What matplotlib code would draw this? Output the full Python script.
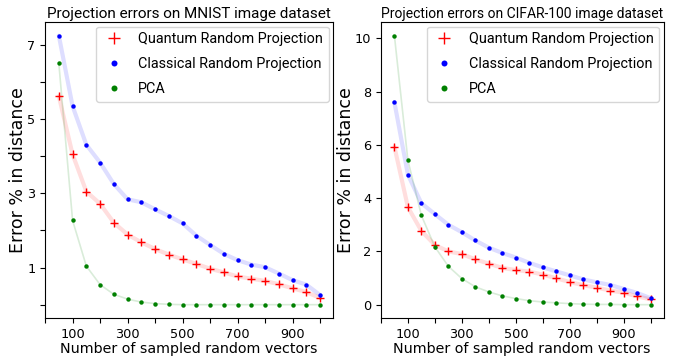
import matplotlib
matplotlib.use("Agg")
import matplotlib.pyplot as plt

# sampled vector counts shared by both panels
vectors = list(range(50, 1001, 50))

# MNIST errors (%)
mnist_quantum = [5.62, 4.05, 3.05, 2.72, 2.21, 1.89, 1.68, 1.50, 1.35, 1.22,
                 1.10, 0.97, 0.87, 0.76, 0.70, 0.64, 0.55, 0.44, 0.34, 0.18]
mnist_classical = [7.25, 5.35, 4.31, 3.83, 3.25, 2.84, 2.76, 2.57, 2.39, 2.19,
                   1.86, 1.61, 1.37, 1.20, 1.08, 1.01, 0.84, 0.66, 0.54, 0.26]
mnist_pca = [6.50, 2.27, 1.04, 0.54, 0.28, 0.15, 0.07, 0.03, 0.01, 0.0,
             0.0, 0.0, 0.0, 0.0, 0.0, 0.0, 0.0, 0.0, 0.0, 0.0]

# CIFAR-100 errors (%)
cifar_quantum = [5.93, 3.66, 2.77, 2.24, 2.00, 1.90, 1.70, 1.54, 1.38, 1.30,
                 1.24, 1.13, 0.99, 0.85, 0.73, 0.64, 0.53, 0.45, 0.31, 0.20]
cifar_classical = [7.60, 4.88, 3.81, 3.40, 3.00, 2.72, 2.41, 2.14, 1.94, 1.77,
                   1.57, 1.40, 1.25, 1.10, 0.95, 0.84, 0.74, 0.59, 0.44, 0.24]
cifar_pca = [10.10, 5.42, 3.35, 2.17, 1.44, 0.98, 0.67, 0.48, 0.33, 0.23,
             0.15, 0.10, 0.07, 0.04, 0.02, 0.01, 0.01, 0.0, 0.0, 0.0]

x_ticks = list(range(0, 1001, 100))
x_labels = [str(t) if t % 200 == 100 else "" for t in x_ticks]

# narrower face for titles and legends, the reference text is squeezed
NARROW = "Roboto"


def draw(ax, title, title_size, quantum, classical, pca):
    ax.plot(vectors, classical, color="blue", lw=3, alpha=0.13, solid_capstyle="round")
    ax.plot(vectors, quantum, color="red", lw=3, alpha=0.13, solid_capstyle="round")
    ax.plot(vectors, pca, color="green", lw=1.2, alpha=0.15)
    ax.plot(vectors, quantum, "+", color="red", ms=6, mew=1.0,
            label="Quantum Random Projection")
    ax.plot(vectors, classical, "o", color="blue", ms=3.2, mew=0,
            label="Classical Random Projection")
    ax.plot(vectors, pca, "o", color="green", ms=3.2, mew=0, label="PCA")
    ax.set_title(title, family=NARROW, fontsize=title_size, pad=3)
    ax.set_xlabel("Number of sampled random vectors", fontsize=10.3, labelpad=1)
    ax.set_ylabel("Error % in distance", fontsize=12.5, labelpad=0)
    ax.set_xticks(x_ticks)
    ax.set_xticklabels(x_labels)
    ax.tick_params(labelsize=9.3)
    ax.legend(loc="upper right", markerscale=1.35, handlelength=1.6,
              handletextpad=0.9, borderaxespad=0.3, labelspacing=0.75,
              prop={"family": NARROW, "size": 10.4})


fig = plt.figure(figsize=(6.73, 3.64), dpi=100)
ax1 = fig.add_axes([0.067, 0.126, 0.428, 0.813])
ax2 = fig.add_axes([0.566, 0.126, 0.420, 0.813])

draw(ax1, "Projection errors on MNIST image dataset", 11,
     mnist_quantum, mnist_classical, mnist_pca)
ax1.set_yticks(range(0, 8))
ax1.set_yticklabels([str(v) if v % 2 else "" for v in range(0, 8)])

draw(ax2, "Projection errors on CIFAR-100 image dataset", 10,
     cifar_quantum, cifar_classical, cifar_pca)
ax2.set_yticks(range(0, 11, 2))

fig.savefig("out.png", dpi=100)
